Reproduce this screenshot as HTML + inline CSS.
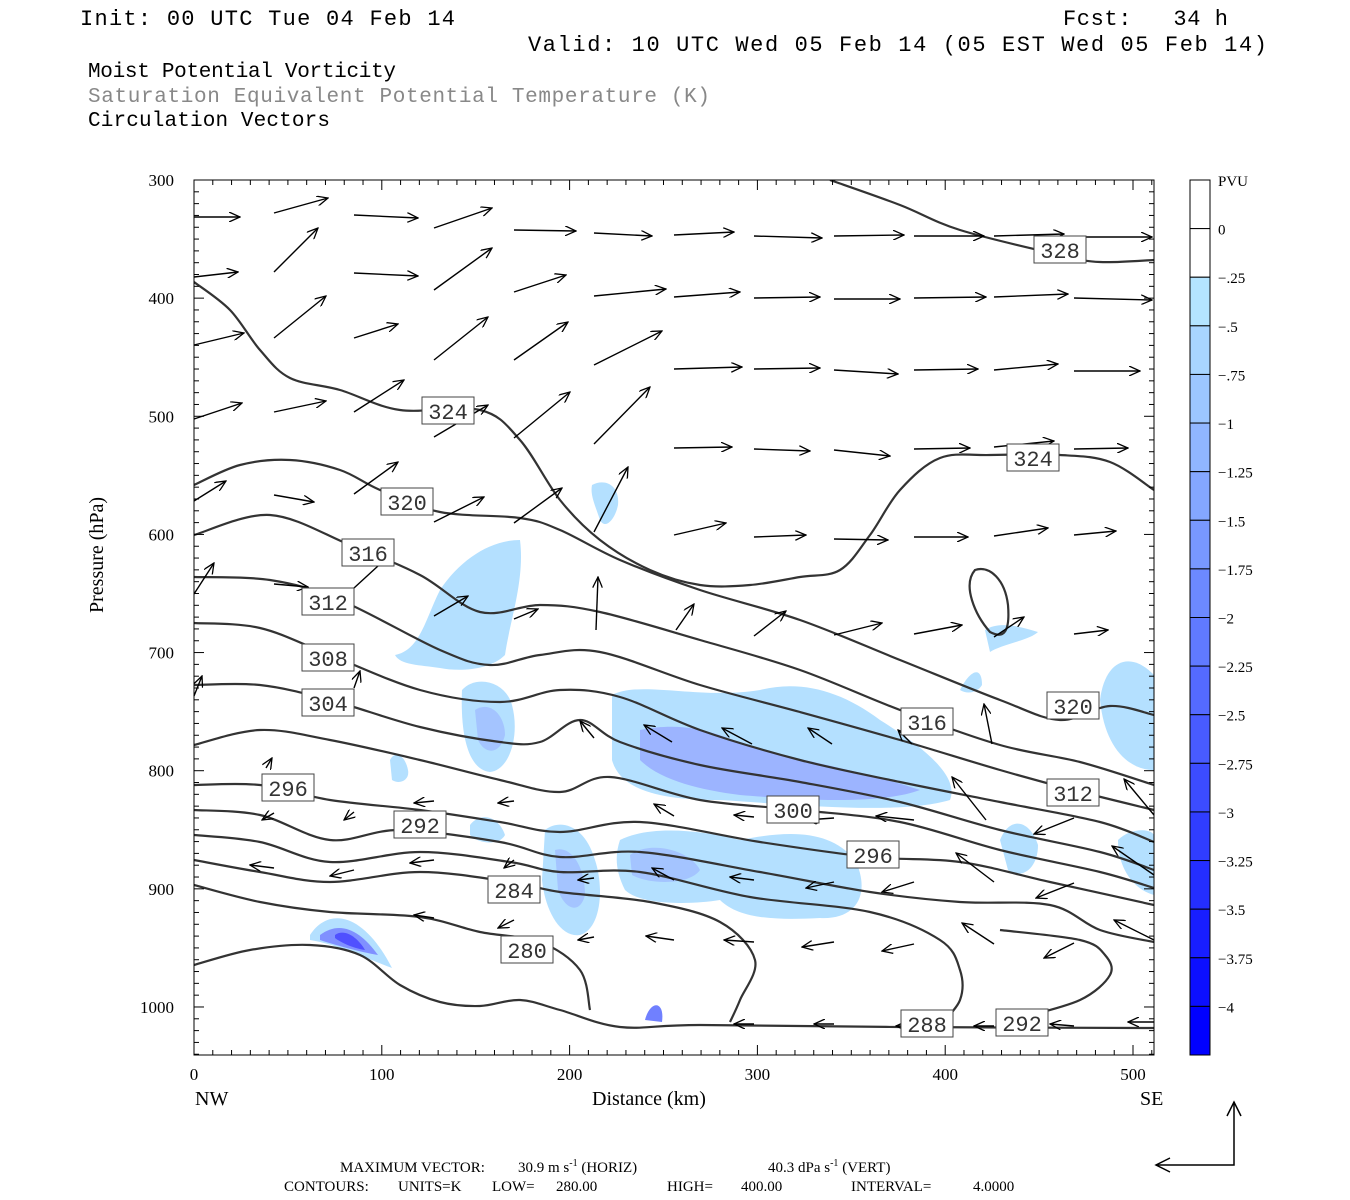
<!DOCTYPE html>
<html><head><meta charset="utf-8"><style>
body{margin:0;background:#fff;width:1350px;height:1200px;overflow:hidden}
svg{display:block}
text{font-family:"Liberation Serif",serif;fill:#000}
.m{font-family:"Liberation Mono",monospace}
</style></head><body>
<svg id="s" width="1350" height="1200" xmlns="http://www.w3.org/2000/svg">
<defs>
<marker id="ah" markerWidth="12" markerHeight="10" refX="11" refY="5" orient="auto" markerUnits="userSpaceOnUse"><path d="M0,0 L11,5 L0,10" fill="none" stroke="#000" stroke-width="1.3"/></marker>
<clipPath id="cp"><rect x="194" y="180" width="960" height="875"/></clipPath>
</defs>
<text class="m" x="80" y="25" font-size="22" textLength="375" lengthAdjust="spacing">Init: 00 UTC Tue 04 Feb 14</text>
<text class="m" x="1063" y="25" font-size="22" textLength="165" lengthAdjust="spacing" xml:space="preserve">Fcst:   34 h</text>
<text class="m" x="528" y="51" font-size="22" textLength="739" lengthAdjust="spacing">Valid: 10 UTC Wed 05 Feb 14 (05 EST Wed 05 Feb 14)</text>
<text class="m" x="88" y="77" font-size="21" textLength="308" lengthAdjust="spacing">Moist Potential Vorticity</text>
<text class="m" x="88" y="102" font-size="21" style="fill:#888" textLength="622" lengthAdjust="spacing">Saturation Equivalent Potential Temperature (K)</text>
<text class="m" x="88" y="126" font-size="21" textLength="242" lengthAdjust="spacing">Circulation Vectors</text>
<g id="fills" clip-path="url(#cp)"></g>
<g id="cont" clip-path="url(#cp)" fill="none" stroke="#333" stroke-width="2.2"></g>
<g id="arr" stroke="#000" stroke-width="1.4" marker-end="url(#ah)"></g>
<g id="lab"></g>
<rect x="194" y="180" width="960" height="875" fill="none" stroke="#000" stroke-width="1"/>
<g id="ticks" stroke="#000" stroke-width="1"></g>
<g id="tl" font-size="17"></g>
<text x="160" y="610" font-size="20" transform="rotate(-90 133 640)">Pressure (hPa)</text>
<text x="592" y="1105" font-size="20">Distance (km)</text>
<text x="195" y="1105" font-size="20">NW</text>
<text x="1140" y="1105" font-size="20">SE</text>
<g id="cb"></g>
<path d="M1156,1165 L1234,1165 L1234,1102" fill="none" stroke="#000" stroke-width="1.5"/>
<path d="M1170,1158 L1156,1165 L1170,1172 M1227,1116 L1234,1102 L1241,1116" fill="none" stroke="#000" stroke-width="1.5"/>
<g font-size="15">
<text x="340" y="1172">MAXIMUM VECTOR:</text>
<text x="518" y="1172">30.9 m s<tspan dy="-6" font-size="10">-1</tspan><tspan dy="6"> (HORIZ)</tspan></text>
<text x="768" y="1172">40.3 dPa s<tspan dy="-6" font-size="10">-1</tspan><tspan dy="6"> (VERT)</tspan></text>
<text x="284" y="1191">CONTOURS:</text>
<text x="398" y="1191">UNITS=K</text>
<text x="492" y="1191">LOW=</text>
<text x="556" y="1191">280.00</text>
<text x="667" y="1191">HIGH=</text>
<text x="741" y="1191">400.00</text>
<text x="851" y="1191">INTERVAL=</text>
<text x="973" y="1191">4.0000</text>
</g>
</svg>
<script>
const NS="http://www.w3.org/2000/svg";
function el(p,t,a,txt){const e=document.createElementNS(NS,t);for(const k in a)e.setAttribute(k,a[k]);if(txt!==undefined)e.textContent=txt;document.getElementById(p).appendChild(e);return e;}
const Y=p=>180+(p-300)*118.14/100, X=d=>194+d*1.878;
for(let p=300;p<=1040;p+=10){const y=Y(p);const L=(p%100==0)?10:5;el("ticks","line",{x1:194,x2:194+L,y1:y,y2:y});el("ticks","line",{x1:1154,x2:1154-L,y1:y,y2:y});}
for(let p=300;p<=1000;p+=100)el("tl","text",{x:174,y:Y(p)+6,"text-anchor":"end"},p);
for(let d=0;d<=510;d+=10){const x=X(d);const L=(d%100==0)?10:5;el("ticks","line",{x1:x,x2:x,y1:1055,y2:1055-L});el("ticks","line",{x1:x,x2:x,y1:180,y2:180+L});}
for(let d=0;d<=500;d+=100)el("tl","text",{x:X(d),y:1080,"text-anchor":"middle"},d);
const labs=["0","-.25","-.5","-.75","-1","-1.25","-1.5","-1.75","-2","-2.25","-2.5","-2.75","-3","-3.25","-3.5","-3.75","-4"];
const step=875/18;
for(let i=0;i<18;i++){let c="#fff";if(i>=2){const t=(i-2)/15;const r=Math.round(180*(1-t)),g=Math.round(228*(1-t)),b=255;c=`rgb(${r},${g},${b})`;}
el("cb","rect",{x:1190,y:180+i*step,width:20,height:step,fill:c,stroke:"#000","stroke-width":1});}
el("cb","text",{x:1218,y:186,"font-size":15},"PVU");
labs.forEach((l,i)=>el("cb","text",{x:1218,y:180+(i+1)*step+6,"font-size":15},l.replace("-","\u2212")));
const F=[["#b4e0ff","M395,655 C420,650 425,620 440,590 C460,560 490,540 520,540 C525,580 510,620 505,655 C490,670 460,672 440,668 C420,665 400,665 395,655Z"],
["#b4e0ff","M592,485 C605,478 620,485 618,505 C615,520 605,530 600,520 C595,505 590,495 592,485Z"],
["#b4e0ff","M612,695 C640,680 700,700 760,690 C800,680 840,690 880,720 C920,745 960,775 950,800 C900,815 800,805 720,800 C660,800 620,790 612,760 Z"],
["#b4e0ff","M620,840 C650,825 700,830 740,840 C790,830 830,830 855,860 C870,890 860,920 820,918 C780,920 740,920 720,900 C690,905 640,905 625,890 C615,870 615,855 620,840Z"],
["#b4e0ff","M545,830 C560,818 585,825 595,860 C605,890 600,930 580,935 C560,938 545,910 542,880 Z"],
["#b4e0ff","M462,690 C475,675 505,680 512,705 C520,735 510,770 490,772 C470,770 460,740 462,690Z"],
["#b4e0ff","M390,760 C395,750 405,755 408,770 C410,780 400,785 392,780Z"],
["#b4e0ff","M470,825 C480,812 498,815 505,835 C500,845 480,845 470,835Z"],
["#b4e0ff","M985,630 C1000,620 1025,628 1038,632 C1030,640 1000,645 990,652 Z"],
["#b4e0ff","M960,690 C970,670 982,665 982,685 C978,692 968,695 960,690Z"],
["#b4e0ff","M1100,700 C1105,660 1130,650 1154,675 L1154,770 C1130,770 1105,750 1100,700Z"],
["#b4e0ff","M1000,840 C1010,815 1030,820 1038,845 C1038,870 1020,880 1008,870Z"],
["#b4e0ff","M1118,840 C1130,828 1150,828 1154,835 L1154,895 C1135,890 1118,870 1118,840Z"],
["#9cb4ff","M640,730 C690,720 720,735 760,750 C800,760 860,770 920,790 C880,805 800,800 740,795 C700,790 660,780 640,760Z"],
["#a4c4ff","M475,710 C490,700 505,715 505,735 C500,755 485,755 478,740Z"],
["#a4c4ff","M555,850 C570,845 585,865 585,895 C580,915 565,910 558,890Z"],
["#a4c4ff","M630,855 C650,840 690,850 700,870 C690,885 650,885 632,875Z"],
["#b4e0ff","M310,935 C330,905 365,915 392,968 C370,960 340,945 310,940Z"],
["#8090ff","M320,935 C340,920 360,930 378,955 C360,952 335,945 320,940Z"],
["#5050ff","M335,935 C345,928 358,938 365,950 C352,948 340,942 335,938Z"],
["#7080ff","M645,1020 C650,1000 665,1000 662,1022Z"]];
F.forEach(f=>el("fills","path",{d:f[1],fill:f[0]}));
const C=[
[[830,180],[900,205],[960,230],[1060,255],[1100,262],[1154,260]],
[[194,282],[230,310],[260,350],[290,378],[340,390],[400,410],[480,410],[520,440],[560,500],[600,540],[650,570],[700,585],[750,585],[800,577],[840,570],[870,535],[900,490],[940,458],[990,455],[1060,455],[1110,462],[1154,490]],
[[194,485],[240,465],[290,460],[340,470],[380,490],[440,512],[520,518],[560,530],[620,560],[700,590],[800,620],[900,660],[1000,700],[1060,720],[1110,706],[1154,715]],
[[194,535],[270,515],[350,545],[420,575],[480,612],[540,605],[600,612],[700,640],[800,670],[900,710],[1000,745],[1080,762],[1154,785]],
[[194,577],[270,580],[340,600],[440,650],[490,665],[540,655],[600,652],[700,685],[800,712],[900,740],[1000,770],[1073,790],[1154,810]],
[[194,623],[260,628],[330,655],[420,690],[500,702],[560,690],[620,697],[700,730],[800,760],[900,782],[1000,802],[1100,822],[1154,842]],
[[194,685],[260,685],[330,700],[420,727],[500,742],[540,742],[580,720],[620,742],[700,765],[800,782],[900,802],[1000,830],[1100,852],[1154,870]],
[[194,745],[260,730],[330,740],[420,760],[500,780],[560,792],[610,777],[700,800],[800,810],[900,822],[1000,850],[1100,872],[1154,888]],
[[194,785],[260,785],[330,800],[420,810],[500,822],[560,832],[640,822],[760,842],[870,857],[960,862],[1050,882],[1154,905]],
[[194,810],[260,815],[330,840],[400,830],[500,842],[560,857],[640,852],[760,872],[870,892],[960,902],[1050,905],[1100,930],[1154,942]],
[[194,835],[260,842],[330,862],[420,852],[510,862],[560,872],[640,872],[750,897],[870,912],[940,940],[960,970],[960,1000],[940,1025]],
[[194,860],[260,872],[330,882],[420,872],[510,882],[560,892],[650,902],[720,922],[755,960],[740,1000],[730,1022]],
[[194,885],[260,902],[330,912],[420,917],[480,932],[540,942],[580,970],[590,1010]],
[[1000,930],[1080,940],[1105,955],[1110,975],[1080,1000],[1020,1018]],
[[194,965],[250,950],[310,945],[360,955],[400,985],[440,1002],[480,1006],[520,1000],[560,1010],[620,1027],[700,1025],[900,1027],[1154,1028]]];
function sm(pts){let d=`M${pts[0][0]},${pts[0][1]}`;for(let i=1;i<pts.length;i++){const p0=pts[i-1],p1=pts[i],pm=pts[i-2]||p0,pn=pts[i+1]||p1;
const c1=[p0[0]+(p1[0]-pm[0])/6,p0[1]+(p1[1]-pm[1])/6],c2=[p1[0]-(pn[0]-p0[0])/6,p1[1]-(pn[1]-p0[1])/6];d+=` C${c1[0]},${c1[1]} ${c2[0]},${c2[1]} ${p1[0]},${p1[1]}`;}return d;}
C.forEach(c=>el("cont","path",{d:sm(c)}));
el("cont","path",{d:"M975,570 C990,565 1005,580 1008,605 C1010,630 1005,640 990,632 C975,615 962,585 975,570Z"});
const A=[[194,217,240,217],[274,213,328,198],[354,215,418,218],[434,228,492,208],[514,230,576,231],[594,233,652,236],[674,235,734,232],[754,236,822,238],[834,236,904,235],[914,236,984,236],[994,236,1064,234],[1074,237,1152,237],
[274,272,318,228],[434,290,492,248],[194,277,238,272],[354,273,418,276],
[514,292,566,275],[594,296,666,289],[674,297,740,292],[754,298,820,297],[834,299,900,299],[914,298,986,297],[994,297,1068,294],[1074,298,1152,300],
[194,345,244,333],[274,338,326,296],[354,338,398,324],[434,360,488,317],[514,360,568,322],[594,365,662,331],
[674,369,742,367],[754,369,820,368],[834,370,898,374],[914,370,978,369],[994,370,1058,364],[1074,371,1140,371],
[194,419,242,403],[274,412,326,401],[354,412,404,380],[434,437,488,405],[514,438,570,392],[594,444,650,387],
[674,448,732,447],[754,449,810,451],[834,450,890,456],[914,449,970,448],[994,447,1054,441],[1074,449,1128,448],
[194,501,226,481],[274,495,314,502],[354,494,398,462],[434,522,484,497],[514,523,562,488],[594,532,628,467],
[674,535,726,523],[754,537,806,535],[834,539,888,540],[914,537,968,537],[994,536,1048,528],[1074,535,1116,531],
[194,594,214,563],[274,584,308,587],[354,588,390,555],[434,616,468,596],[514,619,538,609],[596,630,598,577],[676,630,694,604],[754,636,786,611],[834,635,882,623],[914,634,962,625],[994,637,1024,617],[1074,634,1108,630],
[194,696,202,676],[354,688,360,671],
[672,742,644,725],[752,744,722,728],[832,744,808,728],[912,744,898,730],[992,744,984,704],[594,738,580,721],[1154,815,1124,779],
[266,768,272,758],[1074,818,1034,834],[986,820,952,777],
[434,801,414,803],[514,801,498,803],[674,816,654,804],[754,817,734,815],[834,818,806,820],[914,820,876,816],
[594,878,578,880],[674,880,652,868],[754,880,730,877],[834,882,806,888],[914,882,882,892],[994,882,956,853],[1074,883,1036,898],[1154,875,1112,846],
[274,868,250,865],[354,870,330,876],[434,860,410,863],[514,860,504,868],[274,813,262,820],[354,812,344,820],
[434,918,414,915],[514,920,498,928],[594,937,578,940],
[674,940,646,936],[754,942,724,940],[834,942,802,947],[914,944,882,951],[994,944,962,923],[1074,943,1044,958],[1154,940,1114,920],
[754,1024,734,1024],[834,1024,814,1024],[914,1026,896,1026],[994,1026,974,1026],[1074,1026,1050,1024],[1154,1022,1128,1022]];
A.forEach(a=>el("arr","line",{x1:a[0],y1:a[1],x2:a[2],y2:a[3]}));
const Lb=[[1060,250,"328"],[448,411,"324"],[1033,458,"324"],[407,502,"320"],[1073,706,"320"],[368,553,"316"],[927,722,"316"],[328,602,"312"],[1073,793,"312"],[328,658,"308"],[328,703,"304"],[793,810,"300"],[288,788,"296"],[873,855,"296"],[420,825,"292"],[1022,1023,"292"],[514,890,"284"],[927,1024,"288"],[527,950,"280"]];
Lb.forEach(l=>{el("lab","rect",{x:l[0]-26,y:l[1]-14,width:52,height:27,fill:"#fff",stroke:"#444","stroke-width":1});
el("lab","text",{x:l[0],y:l[1]+8,"text-anchor":"middle","font-size":22,class:"m",style:"fill:#333"},l[2]);});
</script>
</body></html>
